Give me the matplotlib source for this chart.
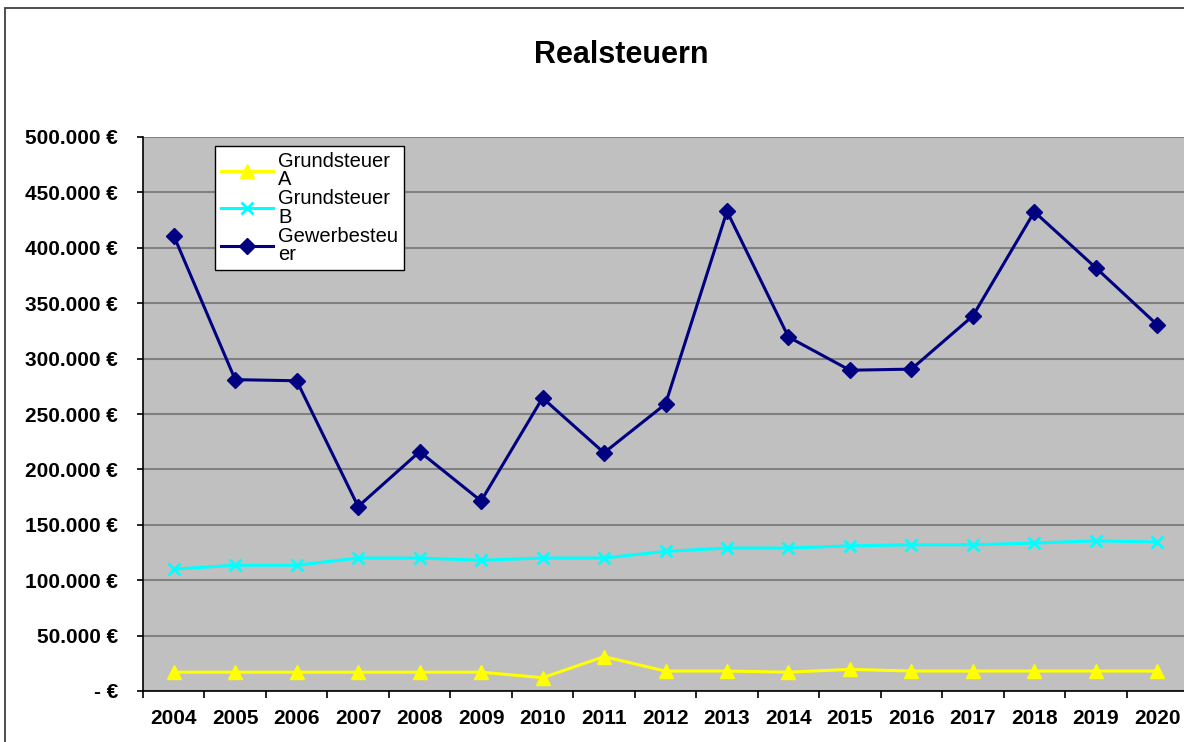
import matplotlib
matplotlib.use("Agg")
import matplotlib.pyplot as plt
from matplotlib.patches import Rectangle
from matplotlib.ticker import FuncFormatter, FixedLocator

years = ["2004", "2005", "2006", "2007", "2008", "2009", "2010", "2011", "2012",
         "2013", "2014", "2015", "2016", "2017", "2018", "2019", "2020"]
grundsteuer_a = [17000, 17000, 17000, 17000, 17000, 17000, 12000, 31000, 18000,
                 18000, 17000, 19500, 18000, 18000, 18000, 18000, 18000]
grundsteuer_b = [110000, 113500, 113500, 120000, 120000, 118000, 120000, 120000, 126000,
                 129000, 129000, 131000, 132000, 132000, 133500, 135500, 134500]
gewerbesteuer = [411000, 281000, 280000, 166500, 216000, 171500, 264500, 215000, 259000,
                 433000, 319500, 289500, 290500, 338500, 432500, 382000, 330500]

plt.rcParams["font.family"] = ["Liberation Sans", "DejaVu Sans"]

W, H = 1184, 742
fig = plt.figure(figsize=(W / 100, H / 100), dpi=100)
fig.patch.set_facecolor("white")

# outer chart frame (cut off at right/bottom like the screenshot)
fig.patches.append(Rectangle((5 / W, -0.05), 1.2, 1 - 8 / H + 0.05, transform=fig.transFigure,
                             fill=False, edgecolor="#404040", linewidth=1.3))

ax = fig.add_axes([143 / W, 51 / H, 1045 / W, 554 / H])
ax.set_facecolor("#C0C0C0")

x = list(range(len(years)))
ax.plot(x, grundsteuer_a, color="#FFFF00", marker="^", markersize=10, linewidth=2.2,
        label="Grundsteuer\nA", zorder=3)
ax.plot(x, grundsteuer_b, color="#00FFFF", marker="x", markersize=8, markeredgewidth=2,
        linewidth=2.2, label="Grundsteuer\nB", zorder=3)
ax.plot(x, gewerbesteuer, color="#000080", marker="D", markersize=8, linewidth=2.2,
        label="Gewerbesteu\ner", zorder=3)

ax.set_xlim(-0.5, len(years) - 0.5)
ax.set_ylim(0, 500000)
ax.set_yticks(range(0, 500001, 50000))
ax.yaxis.set_major_formatter(FuncFormatter(
    lambda v, p: "- €" if v == 0 else f"{int(v):,} €".replace(",", ".")))
ax.grid(axis="y", color="#808080", linewidth=1.5, zorder=1)
ax.set_axisbelow(True)

ax.set_xticks(x)
ax.set_xticklabels(years)
ax.xaxis.set_minor_locator(FixedLocator([i - 0.5 for i in range(len(years) + 1)]))
ax.tick_params(axis="x", which="major", length=0, pad=13)
ax.tick_params(axis="x", which="minor", length=5, width=1.2, color="black", direction="out")
ax.tick_params(axis="y", length=4, width=1.2, pad=14)
for lab in ax.get_xticklabels() + ax.get_yticklabels():
    lab.set_fontsize(15)
    lab.set_fontweight("bold")

for s in ["top", "right"]:
    ax.spines[s].set_visible(False)
ax.spines["left"].set_linewidth(1.2)
ax.spines["bottom"].set_linewidth(1.2)

leg = ax.legend(loc="upper left", bbox_to_anchor=(72 / 1045, 1 - 9 / 554), fontsize=14.5,
                frameon=True, fancybox=False, edgecolor="black", framealpha=1,
                handlelength=2.6, handletextpad=0.25, labelspacing=0.0,
                borderpad=0.3, borderaxespad=0)
leg.get_frame().set_linewidth(1.0)
for t in leg.get_texts():
    t.set_linespacing(0.95)

fig.text(621 / W, 1 - 55 / H, "Realsteuern", ha="center", va="center",
         fontsize=22, fontweight="bold")

fig.savefig("out.png", dpi=100)
